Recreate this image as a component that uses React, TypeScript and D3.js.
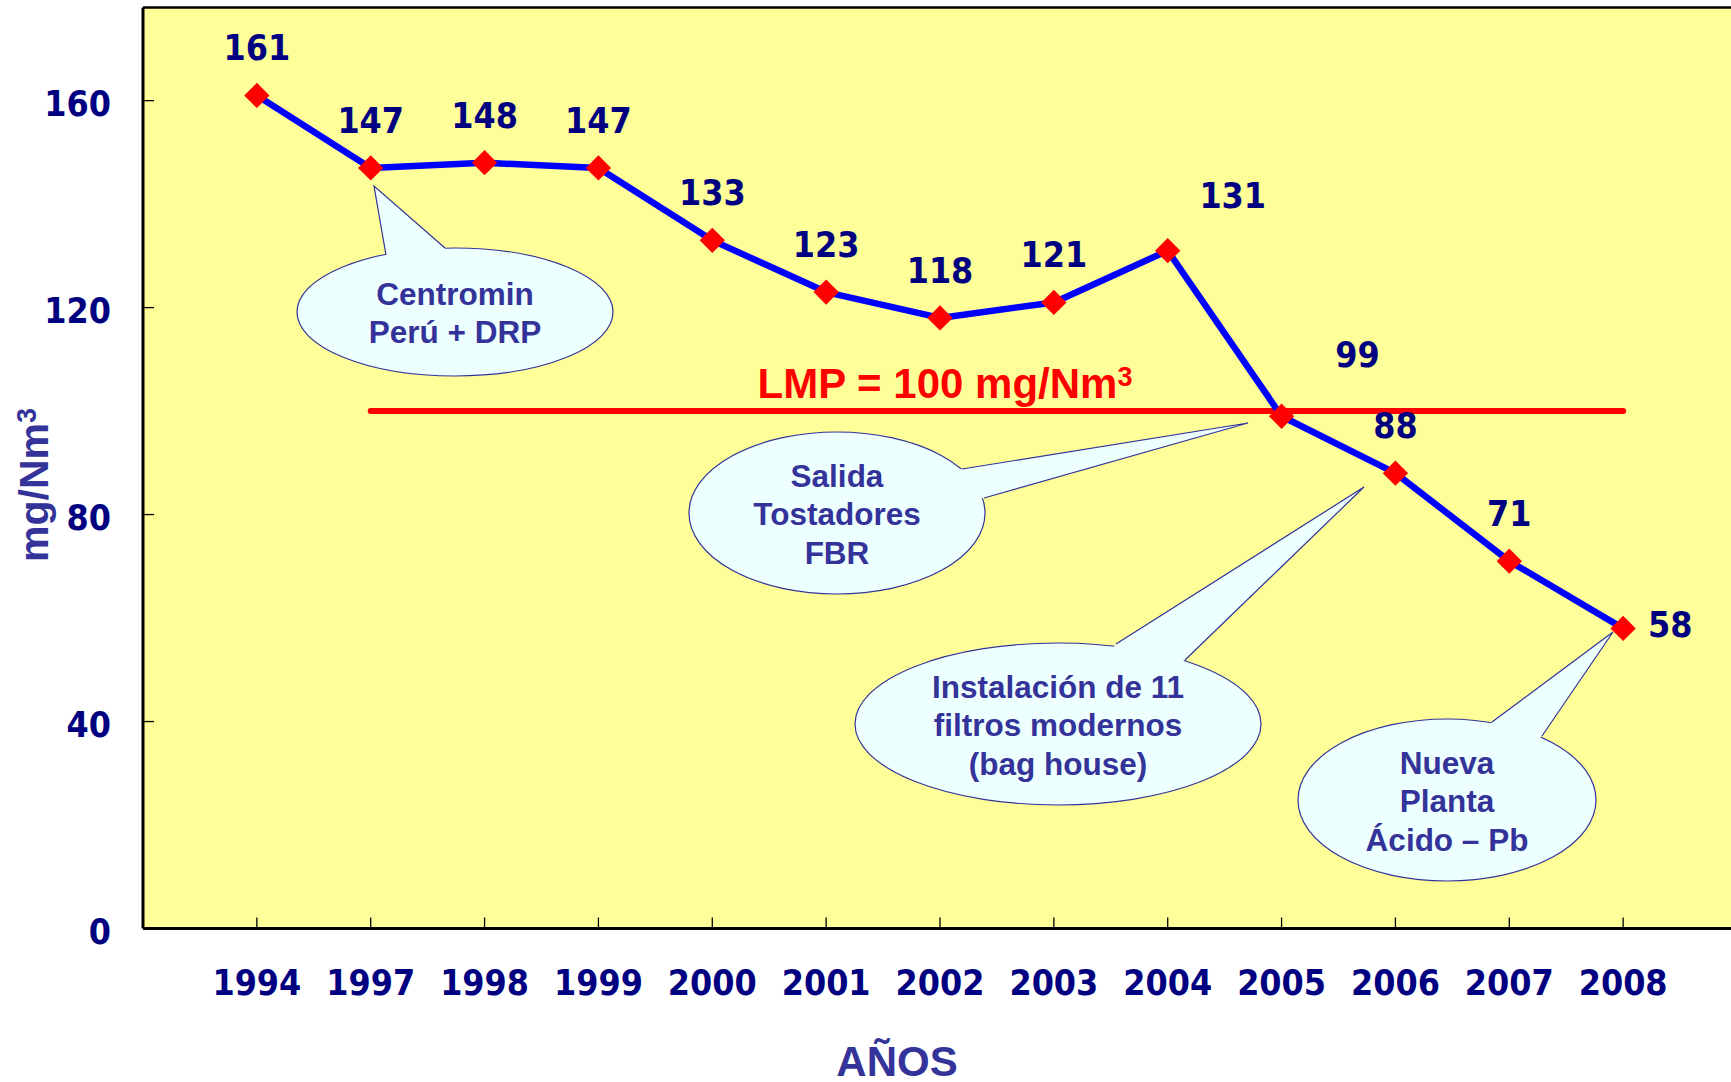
import React from 'react';
import * as d3 from 'd3';

const YEARS = ['1994', '1997', '1998', '1999', '2000', '2001', '2002', '2003', '2004', '2005', '2006', '2007', '2008'];
const VALUES = [161, 147, 148, 147, 133, 123, 118, 121, 131, 99, 88, 71, 58];
const Y_TICKS = [0, 40, 80, 120, 160];
const LMP = 100;
const LMP_FROM = '1997';
const LMP_TO = '2008';

// labels that were moved by hand in the original
const LABEL_NUDGE: Record<string, [number, number]> = {
  '2004': [65, -43],
  '2005': [76, -49],
  '2008': [47, 9],
};

const CALLOUTS = [
  { lines: ['Centromin', 'Perú + DRP'], c: [455, 312], r: [158, 64], base: [[386, 255], [445, 248]], tip: [374, 186] },
  { lines: ['Salida', 'Tostadores', 'FBR'], c: [837, 513], r: [148, 81], base: [[962, 469], [984, 498]], tip: [1248, 423] },
  { lines: ['Instalación de 11', 'filtros modernos', '(bag house)'], c: [1058, 724], r: [203, 81], base: [[1116, 644], [1185, 660]], tip: [1364, 487] },
  { lines: ['Nueva', 'Planta', 'Ácido – Pb'], c: [1447, 800], r: [149, 81], base: [[1492, 722], [1542, 736]], tip: [1613, 632] },
];

const W = 1731, H = 1082;
const left = 143, top = 7.5, bottom = 928.5;
const NUM_FONT = "'DejaVu Sans Condensed', 'DejaVu Sans', Tahoma, sans-serif";
const TXT_FONT = "'Liberation Sans', Arial, sans-serif";
const NAVY = '#000080';
const PURPLE = '#333399';

const App = () => {
  const x = d3.scalePoint<string>().domain(YEARS).range([left, 1737]).padding(1);
  const y = d3.scaleLinear().domain([0, 178]).range([bottom, top]);
  const pts = YEARS.map((yr, i) => ({ yr, v: VALUES[i] }));
  const line = d3.line<{ yr: string; v: number }>().x(d => x(d.yr)!).y(d => y(d.v));
  const diamond = d3.symbol().type(d3.symbolSquare).size(320)();

  return (
    <div style={{ position: 'absolute', left: 0, top: 0 }}>
      <svg width={W} height={H} style={{ display: 'block', background: '#fff' }}>
        <rect x={left} y={top} width={W - left} height={bottom - top} fill="#ffff99" />

        {/* callouts */}
        {CALLOUTS.map((c, i) => {
          const [cx, cy] = c.c;
          const [b1, b2] = c.base;
          const firstBase = cy - ((c.lines.length - 1) / 2) * 38.5 + 12;
          return (
            <g key={i}>
              <ellipse cx={cx} cy={cy} rx={c.r[0]} ry={c.r[1]} fill="#eeffff" stroke={PURPLE} strokeWidth={1.2} />
              <polygon points={`${b1[0]},${b1[1]} ${c.tip[0]},${c.tip[1]} ${b2[0]},${b2[1]} ${cx},${cy}`} fill="#eeffff" />
              <polyline points={`${b1[0]},${b1[1]} ${c.tip[0]},${c.tip[1]} ${b2[0]},${b2[1]}`} fill="none" stroke={PURPLE} strokeWidth={1.2} />
              {c.lines.map((t, j) => (
                <text key={j} x={cx} y={firstBase + j * 38.5} textAnchor="middle" fontFamily={TXT_FONT} fontWeight="bold" fontSize={31.5} fill={PURPLE}>{t}</text>
              ))}
            </g>
          );
        })}

        {/* LMP limit */}
        <line x1={x(LMP_FROM)} x2={x(LMP_TO)} y1={y(LMP)} y2={y(LMP)} stroke="#ff0000" strokeWidth={6} strokeLinecap="round" />
        <text x={945} y={398} textAnchor="middle" fontFamily={TXT_FONT} fontWeight="bold" fontSize={42} fill="#ff0000">
          LMP = {LMP} mg/Nm<tspan fontSize={27} dy={-12}>3</tspan>
        </text>

        {/* series */}
        <path d={line(pts) || ''} fill="none" stroke="#0000ff" strokeWidth={6.5} strokeLinejoin="round" />
        {pts.map(d => (
          <path key={d.yr} d={diamond || ''} transform={`translate(${x(d.yr)},${y(d.v)}) rotate(45)`} fill="#ff0000" />
        ))}
        {pts.map(d => {
          const [dx, dy] = LABEL_NUDGE[d.yr] || [0, -35];
          return (
            <text key={'l' + d.yr} x={x(d.yr)! + dx} y={y(d.v) + dy} textAnchor="middle" fontFamily={NUM_FONT} fontStretch="condensed" fontWeight="bold" fontSize={35.5} fill={NAVY}>{d.v}</text>
          );
        })}

        {/* axes */}
        <line x1={left} x2={W} y1={top} y2={top} stroke="#000" strokeWidth={2.5} />
        {Y_TICKS.map(t => (
          <g key={t}>
            <line x1={left} x2={left + 11} y1={y(t)} y2={y(t)} stroke="#000" strokeWidth={1.3} />
            <text x={111} y={y(t) + 15} textAnchor="end" fontFamily={NUM_FONT} fontStretch="condensed" fontWeight="bold" fontSize={35.5} fill={NAVY}>{t}</text>
          </g>
        ))}
        {YEARS.map(yr => (
          <g key={yr}>
            <line x1={x(yr)} x2={x(yr)} y1={bottom} y2={bottom - 11} stroke="#000" strokeWidth={1.3} />
            <text x={x(yr)} y={995} textAnchor="middle" fontFamily={NUM_FONT} fontStretch="condensed" fontWeight="bold" fontSize={35.5} fill={NAVY}>{yr}</text>
          </g>
        ))}
        <line x1={left} x2={left} y1={top} y2={bottom} stroke="#000" strokeWidth={3} />
        <line x1={left} x2={W} y1={bottom} y2={bottom} stroke="#000" strokeWidth={3} />

        {/* titles */}
        <text transform="translate(48,485) rotate(-90)" textAnchor="middle" fontFamily={TXT_FONT} fontWeight="bold" fontSize={41} fill={PURPLE}>
          mg/Nm<tspan fontSize={27} dy={-12}>3</tspan>
        </text>
        <text x={897} y={1076} textAnchor="middle" fontFamily={TXT_FONT} fontWeight="bold" fontSize={42} fill={PURPLE}>AÑOS</text>
      </svg>
    </div>
  );
};

export default App;
